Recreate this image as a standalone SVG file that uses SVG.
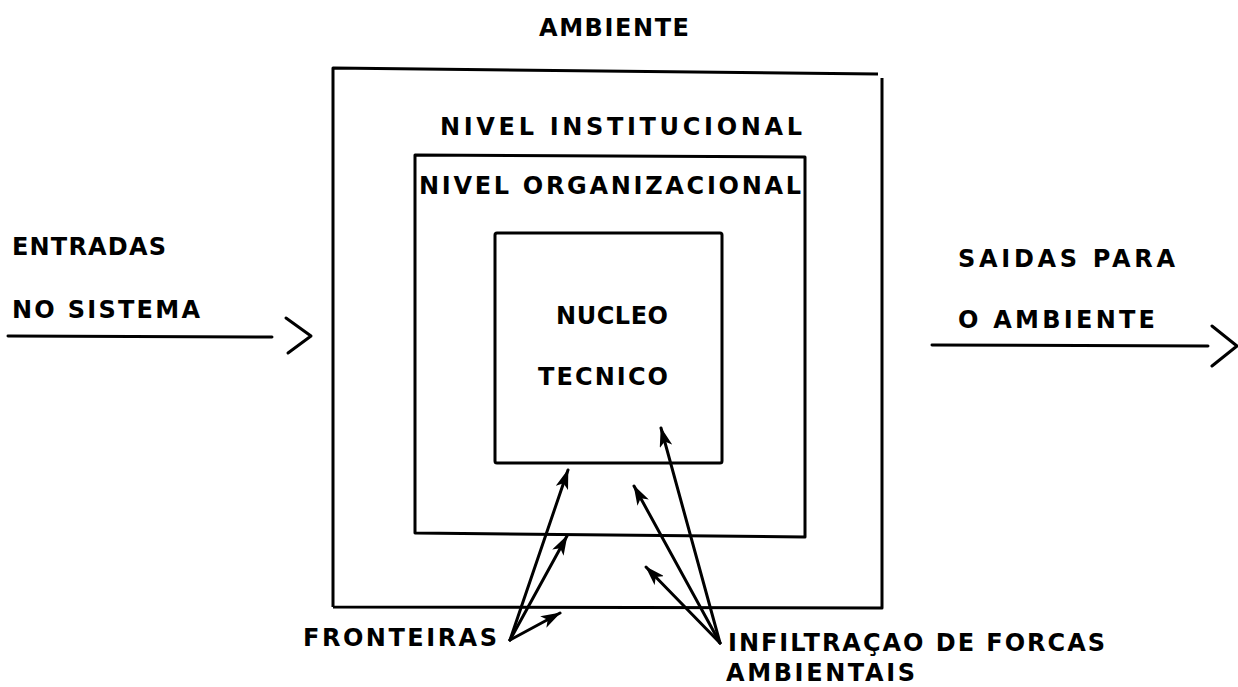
<svg xmlns="http://www.w3.org/2000/svg" width="1238" height="687" viewBox="0 0 1238 687">
<defs>
<style>
text{font-family:"DejaVu Sans","Liberation Sans",sans-serif;font-weight:bold;font-size:24px;fill:#000}
.box{fill:none;stroke:#000;stroke-width:3;stroke-linejoin:round}
.ln{fill:none;stroke:#000;stroke-width:3;stroke-linecap:round;stroke-linejoin:round}
.arr{fill:none;stroke:#000;stroke-width:3;stroke-linecap:round;marker-end:url(#ah)}
</style>
<marker id="ah" viewBox="0 0 20 13" refX="19" refY="6.5" markerWidth="20" markerHeight="13" markerUnits="userSpaceOnUse" orient="auto">
<path d="M0,0 L20,6.5 L0,13 L5,6.5 z" fill="#000"/>
</marker>
</defs>
<rect width="1238" height="687" fill="#fff"/>
<g id="ambiente-label"><text x="539" y="36" textLength="150" lengthAdjust="spacing">AMBIENTE</text></g>
<g id="nivel-institucional">
<path class="box" d="M333,607 L333,68 L878,74 M882,78 L882,608 L333,607"/>
<text x="440" y="135" textLength="362" lengthAdjust="spacing">NIVEL INSTITUCIONAL</text>
</g>
<g id="nivel-organizacional">
<path class="box" d="M415,155 L805,157 L805,537 L415,533 Z"/>
<text x="419" y="194" textLength="382" lengthAdjust="spacing">NIVEL ORGANIZACIONAL</text>
</g>
<g id="nucleo-tecnico">
<rect class="box" x="495" y="233" width="227" height="230" rx="2"/>
<text x="556" y="324" textLength="112" lengthAdjust="spacing">NUCLEO</text>
<text x="538" y="385" textLength="130" lengthAdjust="spacing">TECNICO</text>
</g>
<g id="entradas">
<text x="12" y="255" textLength="154" lengthAdjust="spacing">ENTRADAS</text>
<text x="12" y="318" textLength="188" lengthAdjust="spacing">NO SISTEMA</text>
</g>
<g id="saidas">
<text x="958" y="267" textLength="217" lengthAdjust="spacing">SAIDAS PARA</text>
<text x="958" y="328" textLength="197" lengthAdjust="spacing">O AMBIENTE</text>
</g>
<g id="fronteiras"><text x="303" y="646" textLength="194" lengthAdjust="spacing">FRONTEIRAS</text></g>
<g id="infiltracao">
<text x="728" y="651" textLength="377" lengthAdjust="spacing">INFILTRAÇAO DE FORCAS</text>
<text x="726" y="681" textLength="189" lengthAdjust="spacing">AMBIENTAIS</text>
</g>
<g id="connectors">
<path class="ln" d="M8,336 L272,337"/>
<path class="ln" d="M286,318 L311,336 L288,353"/>
<path class="ln" d="M932,345 L1208,346"/>
<path class="ln" d="M1212,326 L1237,346 L1212,366"/>
<path class="arr" d="M510,640 L568,470"/>
<path class="arr" d="M510,640 L567,536"/>
<path class="arr" d="M510,640 L560,613"/>
<path class="arr" d="M720,643 L661,428"/>
<path class="arr" d="M720,643 L634,486"/>
<path class="arr" d="M720,643 L646,567"/>
</g>
</svg>
